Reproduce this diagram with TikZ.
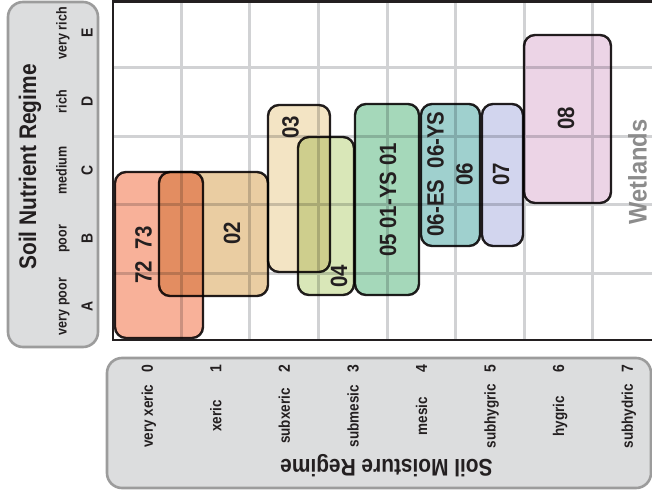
\documentclass[tikz,border=0pt]{standalone}
\usepackage{fontspec}
\setmainfont{Liberation Sans}
\newfontfamily\narrowsans{Liberation Sans}[FakeStretch=0.87]
\newfontfamily\widesans{Liberation Sans}[FakeStretch=0.93]
\definecolor{panelFill}{HTML}{DCDDDE}
\definecolor{panelEdge}{HTML}{9C9C9C}
\definecolor{gridGray}{HTML}{D1D2D4}
\definecolor{boxEdge}{HTML}{231F20}
\definecolor{c7273}{HTML}{F8A98E}
\definecolor{c02}{HTML}{E8C898}
\definecolor{c03}{HTML}{F3E4C4}
\definecolor{c04}{HTML}{D9E7B8}
\definecolor{c05}{HTML}{A5D8BA}
\definecolor{c06}{HTML}{9FD0CE}
\definecolor{c07}{HTML}{D2D5EE}
\definecolor{c08}{HTML}{ECD4E6}
\definecolor{wetGray}{HTML}{8C8C8C}
\begin{document}
\begin{tikzpicture}[x=1pt,y=-1pt,
  panel/.style={draw=panelEdge, line width=2.6pt, fill=panelFill, rounded corners=15pt},
  gridline/.style={draw=gridGray, line width=3pt},
  frameline/.style={draw=boxEdge, line width=2.6pt},
  ecobox/.style={draw=boxEdge, line width=2.4pt, rounded corners=11pt, fill=#1},
  ecolabel/.style={font=\narrowsans\fontsize{23.5}{29}\selectfont\bfseries, text=boxEdge,
    rotate=90, inner sep=0pt, align=center},
  axistitle/.style={font=\narrowsans\fontsize{24}{28}\selectfont\bfseries, text=boxEdge,
    inner sep=0pt, anchor=base},
  classword/.style={font=\narrowsans\fontsize{15.5}{18}\selectfont\bfseries, text=boxEdge,
    rotate=90, inner sep=0pt, anchor=base},
  classnum/.style={font=\narrowsans\fontsize{16}{18}\selectfont\bfseries, text=boxEdge,
    rotate=90, inner sep=0pt, anchor=base},
  nutword/.style={font=\narrowsans\fontsize{14.4}{17}\selectfont\bfseries, text=boxEdge,
    rotate=90, inner sep=0pt, anchor=base},
]
\useasboundingbox (0,0) rectangle (652,495);
\fill[white] (0,0) rectangle (652,495);

% nutrient and moisture legend panels
\path[panel] (8,2) rectangle (98,347);
\path[panel] (107,358) rectangle (651,488);

% grid of the edatopic field
\foreach \gx in {181.3,249.9,318.4,387.0,455.6,524.1,592.7}
  \draw[gridline] (\gx,1) -- (\gx,340);
\foreach \gy in {67.5,136,204.5,273}
  \draw[gridline] (113,\gy) -- (700,\gy);

% ecosite units, blended so that overlaps darken
\begin{scope}[blend mode=multiply]
  \path[ecobox=c7273, fill opacity=0.9] (115,172) rectangle (203,338);
  \path[ecobox=c02, fill opacity=0.9]   (159,172) rectangle (268,296);
  \path[ecobox=c03]   (268,105) rectangle (330,272);
  \path[ecobox=c04]   (298,137) rectangle (354,295);
  \path[ecobox=c05]   (355,104) rectangle (419,295);
  \path[ecobox=c06]   (421,104) rectangle (480,246);
  \path[ecobox=c07]   (482,104) rectangle (523,246);
  \path[ecobox=c08]   (524,35)  rectangle (611,203);
\end{scope}

% frame of the field
\draw[frameline] (700,1.3) -- (113,1.3) -- (113,340) -- (700,340);

% ecosite labels
\node[ecolabel] (l7273) at (143.5,255) {72\ \ 73};
\node[ecolabel] (l02)   at (232,233)   {02};
\node[ecolabel] (l03)   at (290.5,127) {03};
\node[ecolabel] (l04)   at (339,276)   {04};
\node[ecolabel] (l05)   at (388,200)   {05 01-YS 01};
\node[ecolabel] (l06)   at (450,174)   {06-ES\ \ 06-YS\\06};
\node[ecolabel] (l07)   at (501,174)   {07};
\node[ecolabel] (l08)   at (566,118)   {08};
\node[font=\widesans\fontsize{25.5}{30}\selectfont\bfseries, text=wetGray, rotate=90,
      inner sep=0pt] (wet) at (637.5,172) {Wetlands};

% soil nutrient regime legend
\node[axistitle, rotate=90] (nutTitle) at (36,167) {Soil Nutrient Regime};
\foreach \cy/\word/\letter [count=\k] in
    {306.5/very poor/A, 238.8/poor/B, 170.3/medium/C, 101.8/rich/D, 33.3/very rich/E} {
  \node[nutword] (nw\k) at (66.5,\cy) {\word};
  \node[classnum] (nl\k) at (92.5,\cy) {\letter};
}

% soil moisture regime legend
\node[axistitle, rotate=180] (moistTitle) at (386.5,459) {Soil Moisture Regime};
\foreach \word [count=\k from 0] in
    {very xeric, xeric, subxeric, submesic, mesic, subhygric, hygric, subhydric} {
  \pgfmathsetmacro{\cx}{113+68.57*(\k+0.5)+5.5}
  \node[classword] (mw\k) at (\cx,416) {\word};
  \node[classnum]  (mn\k) at (\cx,369) {\k};
}
\end{tikzpicture}
\end{document}
